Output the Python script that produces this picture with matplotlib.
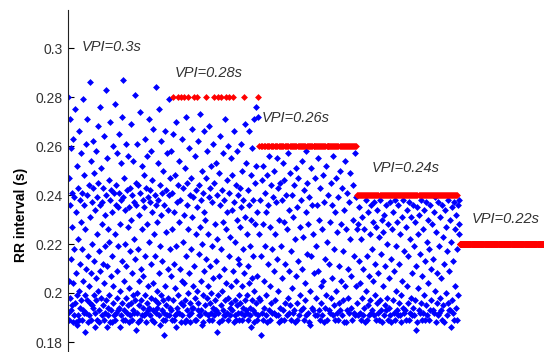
import numpy as np
import matplotlib
matplotlib.use("Agg")
import matplotlib.pyplot as plt

plt.rcParams["font.family"] = ["Liberation Sans", "DejaVu Sans"]

# RR intervals (ms) per pacing segment, beat by beat; paced beats sit at the VPI
vpi = [300, 280, 260, 240, 220]

rr1 = [
    280, 192, 247, 205, 189, 236, 271, 198, 214, 193, 259, 241, 195, 227, 188, 204, 263, 191, 239, 218,
    196, 275, 188, 233, 208, 187, 252, 199, 243, 222, 191, 266, 201, 189, 238, 212, 194, 257, 229, 197,
    241, 189, 218, 279, 193, 205, 236, 192, 248, 199, 226, 184, 261, 210, 192, 240, 197, 271, 215, 188,
    203, 244, 191, 231, 286, 196, 254, 208, 189, 237, 220, 195, 262, 194, 243, 199, 213, 249, 186, 234,
    192, 258, 206, 197, 239, 224, 189, 268, 201, 245, 188, 217, 193, 236, 276, 209, 198, 251, 191, 228,
    237, 195, 212, 243, 189, 264, 204, 192, 232, 219, 283, 197, 240, 186, 255, 211, 194, 226, 191, 246,
    199, 221, 238, 188, 270, 207, 193, 242, 188, 233, 215, 260, 196, 203, 241, 191, 277, 224, 189, 236,
    244, 192, 209, 257, 198, 235, 193, 219, 265, 194, 241, 186, 228, 201, 253, 191, 238, 213, 196, 272,
    189, 239, 287, 205, 193, 247, 220, 189, 234, 198, 261, 211, 192, 242, 227, 195, 256, 188, 235, 202,
    217, 191, 243, 196, 269, 230, 189, 208, 240, 193, 254, 199, 222, 192, 237, 281, 197, 214, 245, 185,
    236, 200, 192, 261, 218, 188, 244, 205, 195, 232, 274, 189, 241, 210, 197, 252, 191, 226, 238, 194,
    207, 248, 191, 235, 199, 263, 215, 192, 243, 188, 228, 256, 196, 239, 203, 193, 271, 221, 194, 237,
    191, 242, 212, 198, 258, 233, 189, 246, 204, 193, 267, 224, 188, 240, 197, 215, 284, 192, 236, 201,
    229, 194, 253, 196, 238, 208, 191, 275, 219, 187, 244, 199, 232, 262, 193, 213, 241, 189, 250, 197,
    183, 236, 192, 266, 203, 189, 242, 225, 195, 257, 191, 234, 210, 198, 279, 191, 240, 218, 194, 247,
]

rr2 = [
    193, 258, 207, 189, 241, 226, 280, 197, 265, 189, 233, 212, 191, 248, 202, 186, 270, 219, 194, 237,
    192, 280, 244, 199, 229, 254, 192, 210, 238, 196, 280, 188, 263, 205, 191, 243, 221, 195, 280, 232,
    204, 188, 251, 197, 272, 215, 189, 236, 193, 245, 280, 200, 226, 191, 259, 208, 188, 240, 196, 218,
    247, 192, 231, 194, 267, 203, 194, 239, 280, 211, 189, 256, 198, 224, 242, 189, 235, 280, 201, 193,
    262, 196, 216, 191, 244, 227, 191, 273, 205, 238, 193, 250, 187, 220, 199, 241, 188, 233, 209, 266,
    195, 230, 192, 280, 214, 247, 198, 258, 191, 224, 203, 239, 189, 268, 196, 211, 243, 192, 252, 200,
    237, 189, 219, 194, 261, 206, 191, 280, 245, 197, 228, 193, 253, 213, 193, 240, 184, 222, 199, 280,
    192, 249, 207, 188, 236, 264, 195, 218, 280, 201, 242, 189, 229, 193, 257, 210, 191, 238, 197, 271,
    191, 226, 280, 204, 246, 192, 233, 198, 260, 189, 215, 280, 241, 194, 223, 191, 255, 203, 196, 234,
    248, 193, 209, 280, 188, 237, 266, 197, 221, 191, 244, 205, 189, 230, 258, 195, 214, 192, 240, 199,
    212, 189, 243, 196, 227, 261, 192, 235, 203, 189, 250, 218, 194, 238, 191, 280, 208, 269, 197, 231,
    193, 253, 199, 224, 192, 242, 211, 189, 266, 204, 236, 194, 219, 191, 248, 186, 230, 197, 259, 206,
    193, 238, 215, 188, 271, 201, 245, 192, 228, 276, 196, 252, 189, 233, 207, 272, 191, 280, 224, 198,
]

rr3 = [
    260, 197, 238, 183, 260, 215, 246, 192, 260, 228, 189, 252, 260, 205, 194, 241, 260, 219, 191, 233,
    199, 260, 248, 188, 212, 260, 236, 193, 256, 260, 203, 189, 227, 260, 244, 196, 218, 260, 192, 239,
    260, 209, 192, 250, 260, 224, 197, 237, 260, 191, 214, 255, 260, 201, 243, 191, 260, 230, 188, 260,
    245, 194, 260, 219, 189, 238, 260, 206, 253, 193, 260, 229, 189, 246, 260, 212, 196, 260, 240, 191,
    260, 226, 198, 257, 260, 192, 234, 209, 260, 195, 249, 260, 217, 189, 240, 260, 202, 192, 260, 231,
    193, 260, 244, 188, 222, 260, 207, 251, 260, 196, 235, 189, 260, 213, 247, 260, 191, 227, 260, 199,
    260, 238, 193, 210, 260, 254, 194, 223, 260, 189, 242, 260, 204, 197, 260, 233, 191, 258, 260, 216,
    245, 192, 260, 228, 188, 260, 239, 201, 260, 187, 251, 260, 215, 194, 236, 260, 193, 224, 260, 208,
    260, 191, 247, 260, 198, 219, 260, 236, 191, 260, 209, 255, 260, 193, 230, 260, 189, 243, 260, 203,
    196, 260, 226, 191, 260, 248, 205, 260, 188, 237, 260, 214, 194, 260, 252, 199, 260, 221, 189, 260,
    240, 260, 193, 212, 260, 229, 192, 260, 245, 198, 260, 206, 236, 260, 191, 256, 260, 218, 195, 260,
    233, 189, 260, 247, 201, 260, 192, 225, 260, 239, 189, 260, 211, 196, 260, 250, 193, 260, 228, 205,
    260, 243, 191, 260, 217, 197, 260, 234, 188, 260, 254, 203, 260, 188, 226, 260, 241, 193, 260, 210,
    198, 260, 237, 192, 260, 222, 249, 260, 194, 207, 260, 189, 244, 260, 230, 192, 260, 215, 257, 260,
    191, 239, 260, 203, 226,
]

rr4 = [
    240, 196, 228, 240, 191, 213, 240, 235, 192, 240, 204, 189, 240, 222, 198, 240, 231, 191, 240, 210,
    194, 240, 226, 188, 240, 238, 201, 240, 215, 189, 240, 233, 195, 240, 207, 191, 240, 224, 197, 240,
    236, 192, 240, 218, 193, 240, 229, 205, 240, 191, 237, 240, 199, 212, 240, 189, 227, 240, 196, 234,
    240, 208, 192, 240, 223, 189, 240, 238, 197, 240, 216, 193, 240, 230, 188, 240, 203, 225, 240, 191,
    232, 240, 195, 211, 240, 193, 236, 240, 220, 198, 240, 189, 228, 240, 206, 194, 240, 237, 191, 240,
    214, 188, 240, 226, 197, 240, 233, 192, 240, 209, 189, 240, 238, 201, 240, 219, 193, 240, 229, 191,
    240, 236, 196, 240, 212, 191, 240, 224, 199, 240, 188, 231, 240, 205, 194, 240, 238, 192, 240, 217,
    193, 240, 227, 189, 240, 234, 203, 240, 196, 215, 240, 189, 240, 237, 192, 222, 240, 198, 231, 240,
    208, 191, 240, 236, 194, 240, 219, 191, 240, 229, 197, 240, 185, 211, 240, 235, 188, 240, 224, 202,
    240, 193, 232, 240, 192, 216, 240, 238, 196, 240, 207, 189, 240, 226, 192, 240, 234, 199, 240, 213,
    189, 240, 237, 195, 240, 221, 191, 240, 230, 204, 240, 189, 218, 240, 236, 193, 240, 210, 197, 240,
    228, 240, 193, 214, 240, 233, 192, 240, 239, 201, 240, 188, 225, 240, 196, 208, 240, 237, 191, 240,
    219, 192, 240, 231, 198, 240, 206, 193, 240, 236, 189, 240, 223, 195, 240, 212, 188, 240, 234, 200,
    240, 227, 191, 240, 217, 196, 240, 238, 193, 240, 209, 193, 240, 230, 186, 240, 221, 197, 240, 235,
    192, 240, 213, 189, 240, 237, 203, 240, 226, 194, 240, 232, 189, 240, 218, 236, 199, 228, 238, 224,
]

# last segment: every beat paced at 220 ms
rr5 = [220] * 247

segments = [rr1, rr2, rr3, rr4, rr5]
labels = ["VPI=0.3s", "VPI=0.28s", "VPI=0.26s", "VPI=0.24s", "VPI=0.22s"]

fig = plt.figure(figsize=(5.44, 3.52), dpi=100)
ax = fig.add_axes([68 / 544, 0, 476 / 544, 342 / 352])

# label offsets (beats from segment start, seconds above VPI)
lab_dx = [41, 13, 7, 44, 36]
lab_dy = [0.0004, 0.0098, 0.0114, 0.0110, 0.0102]

start = 0
for rr, v, lab, dx, dy in zip(segments, vpi, labels, lab_dx, lab_dy):
    rr = np.array(rr) / 1000.0
    x = start + np.arange(len(rr))
    paced = np.isclose(rr, v / 1000.0)
    ax.plot(x[~paced], rr[~paced], "D", color="#0000ff", ms=3.5, mew=0)
    ax.plot(x[paced], rr[paced], "D", color="#ff0000", ms=3.5, mew=0)
    ax.text(start + dx, v / 1000.0 + dy, lab, style="italic", fontsize=10.5,
            color="#333333", va="center", ha="left")
    start += len(rr)

ax.set_xlim(0, start)
ax.set_ylim(0.18 - 10 / 2450, 0.30 + 38 / 2450)
ax.set_yticks([0.18, 0.2, 0.22, 0.24, 0.26, 0.28, 0.3])
ax.set_yticklabels(["0.18", "0.2", "0.22", "0.24", "0.26", "0.28", "0.3"])
ax.tick_params(axis="y", direction="in", length=4, labelsize=10, pad=4,
               labelcolor="#333333")
ax.set_xticks([])
for s in ["top", "right", "bottom"]:
    ax.spines[s].set_visible(False)
ax.spines["left"].set_color("#222222")
ax.patch.set_visible(False)

ax.set_ylabel("RR interval (s)", fontsize=10, fontweight="bold")
ax.yaxis.set_label_coords(-0.084, (352 - 215) / 342)

fig.savefig("out.png", dpi=100)
